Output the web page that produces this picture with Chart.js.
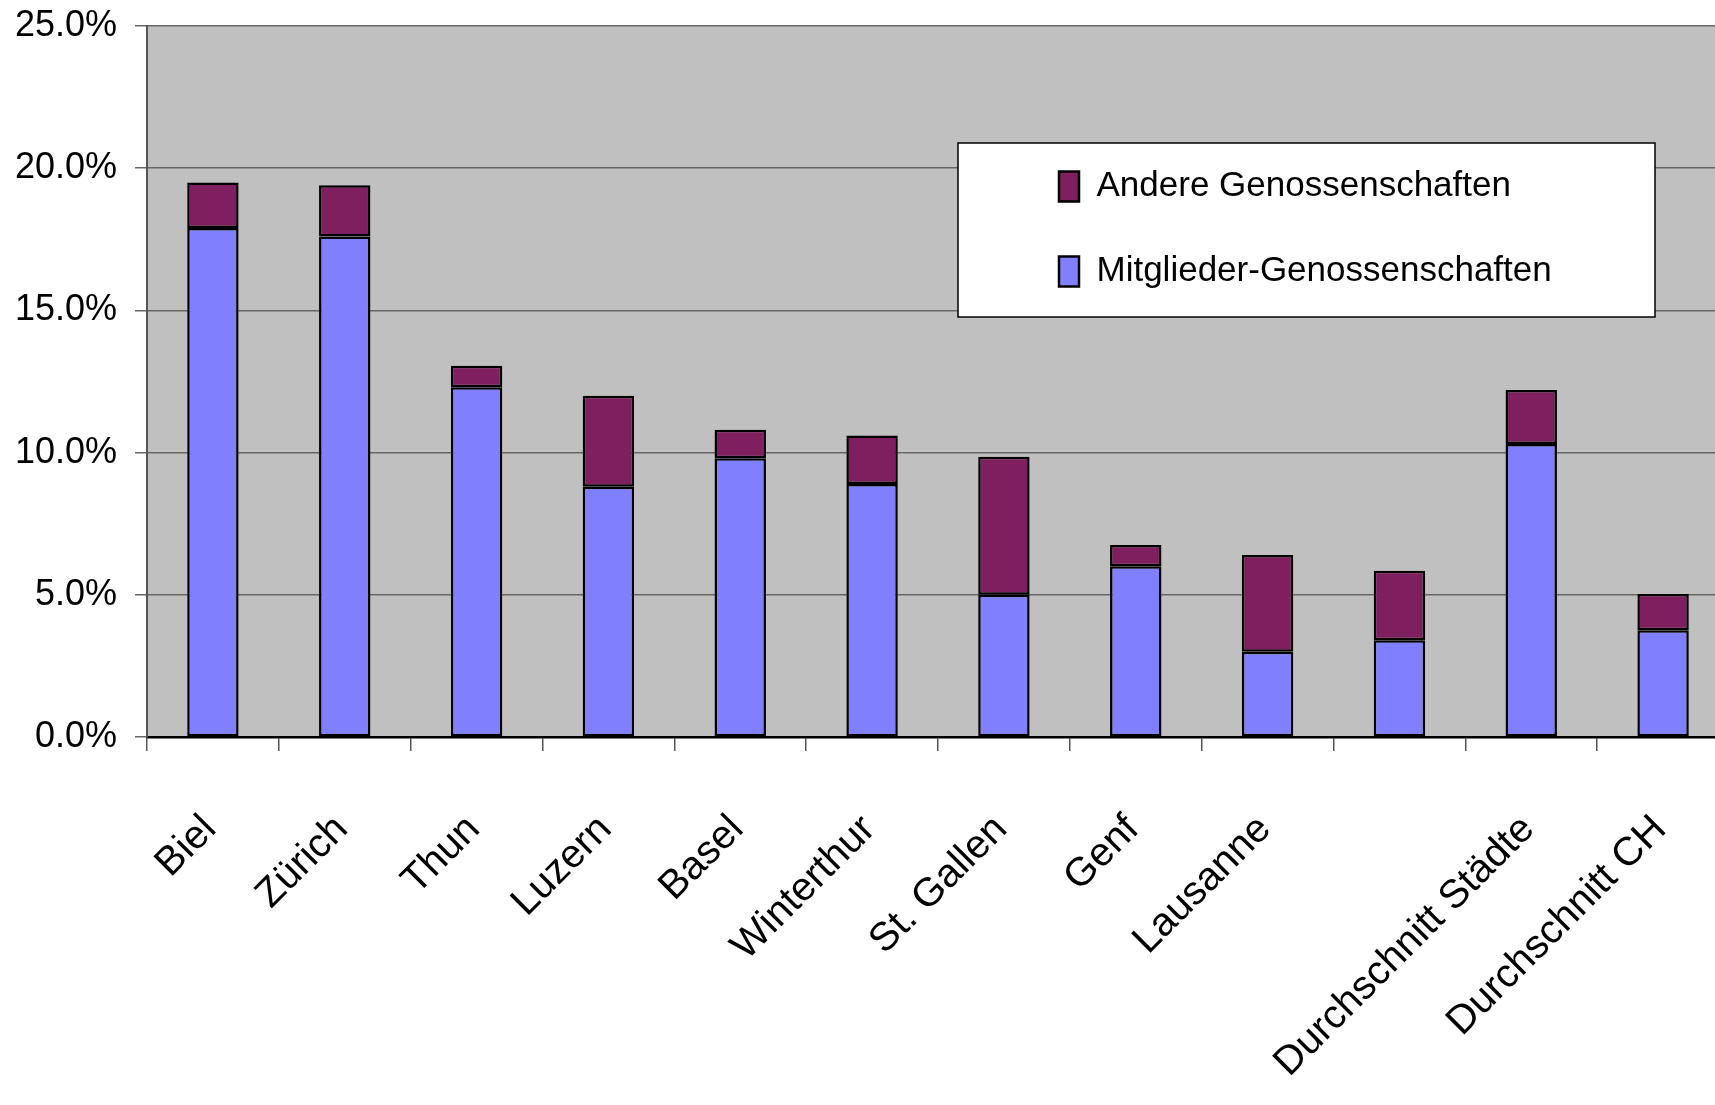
<!DOCTYPE html>
<html>
  <head>
    <meta charset="utf-8" />
    <title>Genossenschaften Anteil</title>
    <style>
        html, body {
            width: 100%;
            height: 100%;
            margin: 0;
            padding: 0;
            overflow: hidden;
            background: #fff;
        }
        #wrap {
            width: 1729px;
            height: 1105px;
        }
    </style>
  </head>
  <body>
    <script src="https://cdn.jsdelivr.net/npm/chart.js@4.4.1/dist/chart.umd.min.js"></script>
    <div id="wrap"><canvas id="chart"></canvas></div>

    <script>
        // categories (bar 10 has no readable label in the source)
        const cities = ["Biel", "Zürich", "Thun", "Luzern", "Basel", "Winterthur", "St. Gallen",
                        "Genf", "Lausanne", "", "Durchschnitt Städte", "Durchschnitt CH"];
        // share of dwellings in %
        const mitglieder = [17.9, 17.6, 12.3, 8.8, 9.8, 8.9, 5.0, 6.0, 3.0, 3.4, 10.3, 3.75];
        const andere     = [1.6, 1.8, 0.75, 3.2, 1.0, 1.7, 4.85, 0.75, 3.4, 2.45, 1.9, 1.28];
        const yTicks = [0, 5, 10, 15, 20, 25];

        const sans = "'Liberation Sans', Arial, sans-serif";

        // grey plot area
        const plotBg = {
          id: "plotBg",
          beforeDraw(chart) {
            const {ctx, chartArea: a} = chart;
            ctx.save();
            ctx.fillStyle = "#c0c0c0";
            ctx.fillRect(a.left, a.top, a.right - a.left, a.bottom - a.top);
            ctx.restore();
          }
        };

        // put the legend inside the plot, on a white framed box
        const legendBox = {
          id: "legendBox",
          afterLayout(chart) {
            const lg = chart.legend, a = chart.chartArea;
            const box = {left: a.left + 811, top: a.top + 117, right: a.left + 1508, bottom: a.top + 291};
            lg.left = box.left + 51;
            lg.top = box.top - 24;
            if (!lg._boxed) {
              const orig = lg.draw.bind(lg);
              lg.draw = function () {
                const b = lg._box, ctx = chart.ctx;
                ctx.save();
                ctx.fillStyle = "#fff";
                ctx.strokeStyle = "#000";
                ctx.lineWidth = 1.5;
                ctx.fillRect(b.left, b.top, b.right - b.left, b.bottom - b.top);
                ctx.strokeRect(b.left, b.top, b.right - b.left, b.bottom - b.top);
                ctx.restore();
                orig();
              };
              lg._boxed = true;
            }
            lg._box = box;
          }
        };

        const chart = new Chart("chart", {
          type: "bar",
          data: {
            labels: cities,
            datasets: [
              {
                label: "Mitglieder-Genossenschaften",
                data: mitglieder,
                backgroundColor: "#8080ff",
                borderColor: "#000",
                borderWidth: 2.5,
                borderSkipped: false
              },
              {
                label: "Andere Genossenschaften",
                data: andere,
                backgroundColor: "#7f1f5f",
                borderColor: "#000",
                borderWidth: 2.5,
                borderSkipped: false
              }
            ]
          },
          options: {
            responsive: true,
            maintainAspectRatio: false,
            animation: false,
            layout: { padding: { left: 0, right: 0, top: 26, bottom: 0 } },
            datasets: {
              bar: { categoryPercentage: 1, barPercentage: 0.39 }
            },
            plugins: {
              tooltip: { enabled: false },
              legend: {
                position: "chartArea",
                align: "start",
                reverse: true,
                labels: {
                  boxWidth: 20,
                  boxHeight: 30,
                  padding: 50,
                  color: "#000",
                  font: { family: sans, size: 35 }
                }
              }
            },
            scales: {
              x: {
                stacked: true,
                offset: true,
                grid: {
                  drawOnChartArea: false,
                  drawTicks: true,
                  tickLength: 14,
                  color: "#555",
                  lineWidth: 1.5
                },
                border: { color: "#000", width: 2.5 },
                ticks: {
                  autoSkip: false,
                  minRotation: 45,
                  maxRotation: 45,
                  padding: 55,
                  labelOffset: -3,
                  color: "#000",
                  font: { family: sans, size: 40 }
                },
                afterFit(scale) {
                  scale.height = 368;
                  scale.paddingLeft = 0;
                  scale.paddingRight = 0;
                }
              },
              y: {
                stacked: true,
                min: 0,
                max: 25,
                afterBuildTicks(scale) { scale.ticks = yTicks.map(v => ({value: v})); },
                grid: {
                  color: "#666",
                  lineWidth: 1.5,
                  tickLength: 12
                },
                border: { color: "#555", width: 2 },
                ticks: {
                  padding: 18,
                  color: "#000",
                  font: { family: sans, size: 36 },
                  callback: (v) => v.toFixed(1) + "%"
                },
                afterFit(scale) {
                  scale.width = 147;
                  scale.paddingTop = 0;
                  scale.paddingBottom = 0;
                }
              }
            }
          },
          plugins: [plotBg, legendBox]
        });
    </script>
  </body>
</html>
